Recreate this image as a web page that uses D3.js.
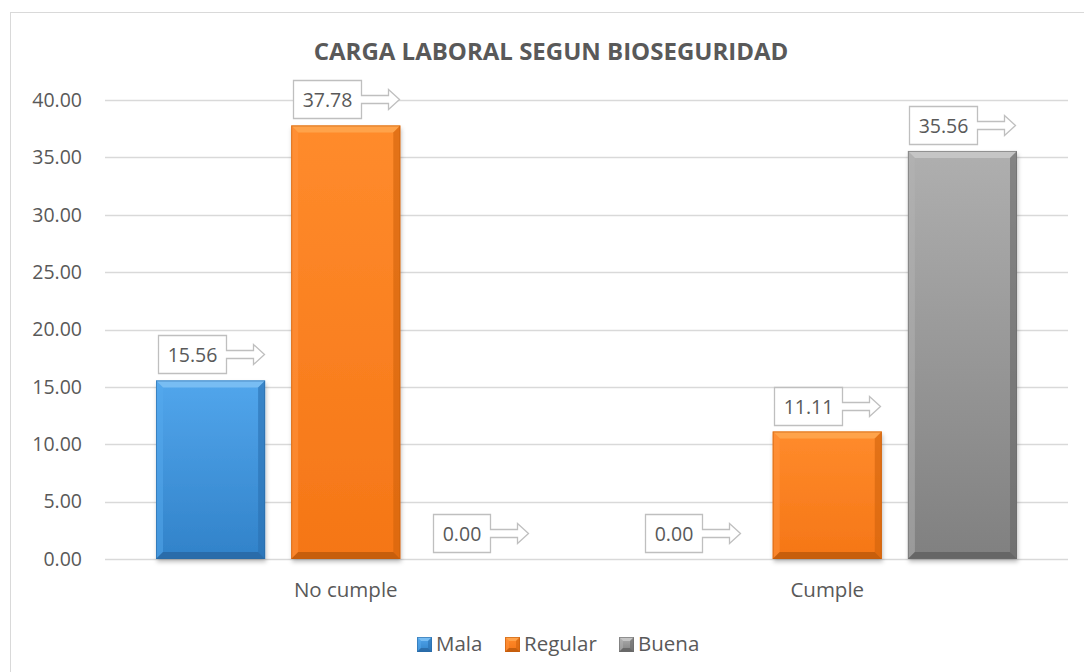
<!DOCTYPE html>
<html>
<head>
<meta charset="utf-8">
<script src="https://cdn.jsdelivr.net/npm/d3@7"></script>
<style>
  html, body { margin: 0; padding: 0; background: #fff; }
  svg { display: block; font-family: 'Open Sans', sans-serif; }
</style>
</head>
<body>
<svg id="chart" width="1084" height="672"></svg>
<script>
// === Data ===
const categories = ['No cumple', 'Cumple'];
const seriesNames = ['Mala', 'Regular', 'Buena'];
const mala    = [15.56, 0.00];
const regular = [37.78, 11.11];
const buena   = [0.00, 35.56];
const yTicks  = [0, 5, 10, 15, 20, 25, 30, 35, 40];
const title   = 'CARGA LABORAL SEGUN BIOSEGURIDAD';

const seriesValues = [mala, regular, buena];

// bevel palettes per series: main gradient top/bottom, top/left/right/bottom bevel
const palettes = [
  { g0: '#52a6ec', g1: '#3182c9', top: '#7cc0f4', left: '#56aaee', right: '#2a6fb0', bottom: '#245d94', edge: '#2a6aa6' },
  { g0: '#ff8b2c', g1: '#f57616', top: '#ffa54e', left: '#ff9440', right: '#d0630c', bottom: '#a84e06', edge: '#c45e0c' },
  { g0: '#afafaf', g1: '#808080', top: '#c8c8c8', left: '#b4b4b4', right: '#686868', bottom: '#555555', edge: '#6a6a6a' }
];

// === Layout ===
const plot = { left: 105, right: 1068, top: 100, bottom: 559 };
const TEXT = '#595959';
const GRID = '#d9d9d9';

const svg = d3.select('#chart');
const defs = svg.append('defs');

palettes.forEach((p, i) => {
  const lg = defs.append('linearGradient').attr('id', 'g' + i)
    .attr('x1', 0).attr('y1', 0).attr('x2', 0).attr('y2', 1);
  lg.append('stop').attr('offset', 0).attr('stop-color', p.g0);
  lg.append('stop').attr('offset', 1).attr('stop-color', p.g1);
});
const shadow = defs.append('filter').attr('id', 'shadow')
  .attr('x', '-10%').attr('y', '-10%').attr('width', '130%').attr('height', '130%');
shadow.append('feDropShadow').attr('dx', 1).attr('dy', 3)
  .attr('stdDeviation', 2).attr('flood-color', '#000').attr('flood-opacity', 0.25);

// chart border
svg.append('rect')
  .attr('x', 10.5).attr('y', 12.5).attr('width', 1090).attr('height', 680)
  .attr('fill', 'none').attr('stroke', GRID);

// === Scales ===
const y = d3.scaleLinear().domain([0, 40]).range([plot.bottom, plot.top]);
const x0 = d3.scaleBand().domain(categories).range([plot.left, plot.right]).padding(0);
const x1 = d3.scaleBand().domain(seriesNames)
  .range([51, x0.bandwidth() - 51]).paddingInner(0.193);

// gridlines
svg.append('g').selectAll('line')
  .data(yTicks)
  .join('line')
  .attr('x1', plot.left).attr('x2', plot.right)
  .attr('y1', d => Math.round(y(d)) + 0.5).attr('y2', d => Math.round(y(d)) + 0.5)
  .attr('stroke', GRID).attr('stroke-width', 1.3);

// y axis labels
const yAxis = svg.append('g')
  .attr('transform', `translate(${plot.left},0)`)
  .call(d3.axisLeft(y).tickValues(yTicks).tickFormat(d3.format('.2f')).tickSize(0).tickPadding(23));
yAxis.select('.domain').remove();
yAxis.selectAll('text').attr('fill', TEXT).style('font-size', '19.5px')
  .style('font-family', "'Open Sans', sans-serif");

// x axis labels
svg.append('g').selectAll('text')
  .data(categories)
  .join('text')
  .attr('x', d => x0(d) + x0.bandwidth() / 2)
  .attr('y', 597)
  .attr('text-anchor', 'middle')
  .attr('fill', TEXT).style('font-size', '20.5px')
  .text(d => d);

// title
svg.append('text')
  .attr('x', 551).attr('y', 60)
  .attr('text-anchor', 'middle')
  .attr('fill', TEXT).style('font-size', '24px').style('font-weight', 700)
  .text(title);

// === Bars ===
function bevelBar(g, bx, by, w, h, p, i, b) {
  if (h <= 0) return;
  b = Math.min(b, h / 2, w / 2);
  g.append('rect').attr('x', bx).attr('y', by).attr('width', w).attr('height', h)
    .attr('fill', `url(#g${i})`).attr('filter', 'url(#shadow)');
  const poly = pts => g.append('polygon').attr('points', pts.map(q => q.join(',')).join(' '));
  poly([[bx, by], [bx + w, by], [bx + w - b, by + b], [bx + b, by + b]]).attr('fill', p.top).attr('opacity', 0.9);
  poly([[bx, by], [bx + b, by + b], [bx + b, by + h - b], [bx, by + h]]).attr('fill', p.left).attr('opacity', 0.5);
  poly([[bx + w, by], [bx + w, by + h], [bx + w - b, by + h - b], [bx + w - b, by + b]]).attr('fill', p.right).attr('opacity', 0.6);
  poly([[bx, by + h], [bx + b, by + h - b], [bx + w - b, by + h - b], [bx + w, by + h]]).attr('fill', p.bottom).attr('opacity', 0.6);
  g.append('rect').attr('x', bx + 0.5).attr('y', by + 0.5).attr('width', w - 1).attr('height', h - 1)
    .attr('fill', 'none').attr('stroke', p.edge).attr('stroke-opacity', 0.6);
}

const barData = [];
categories.forEach((c, ci) => {
  seriesNames.forEach((s, si) => {
    barData.push({ cat: c, ser: s, si, value: seriesValues[si][ci] });
  });
});

const barsG = svg.append('g');
barData.forEach(d => {
  const bx = x0(d.cat) + x1(d.ser);
  const by = y(d.value);
  const g = barsG.append('g');
  bevelBar(g, bx, by, x1.bandwidth(), plot.bottom - by, palettes[d.si], d.si, 7);
});

// === Data label callouts (right arrow callout) ===
const labelsG = svg.append('g');
barData.forEach(d => {
  const cx = x0(d.cat) + x1(d.ser) + x1.bandwidth() / 2;
  const g = labelsG.append('g');
  const txt = g.append('text')
    .attr('fill', TEXT).style('font-size', '19.5px')
    .attr('text-anchor', 'middle')
    .text(d3.format('.2f')(d.value));
  const tw = txt.node().getComputedTextLength();
  const boxW = Math.round(tw + 18), boxH = 38, arrowL = 38;
  const total = boxW + arrowL;
  const left = Math.round(cx - total / 2) + 0.5;
  const bottom = Math.round(y(d.value) - 7) + 0.5;
  const top = bottom - boxH;
  const mid = (top + bottom) / 2;
  const r = left + boxW;
  const headBase = r + 27, tip = r + arrowL;
  const pts = [
    [left, top], [r, top], [r, mid - 4], [headBase, mid - 4], [headBase, mid - 10],
    [tip, mid], [headBase, mid + 10], [headBase, mid + 4], [r, mid + 4], [r, bottom], [left, bottom]
  ];
  g.insert('polygon', 'text')
    .attr('points', pts.map(q => q.join(',')).join(' '))
    .attr('fill', '#fff').attr('stroke', '#bfbfbf').attr('stroke-width', 1.3);
  txt.attr('x', left + boxW / 2).attr('y', mid + 7);
});

// === Legend ===
const legendItems = [
  { name: 'Mala', x: 417 },
  { name: 'Regular', x: 505 },
  { name: 'Buena', x: 619 }
];
const legendG = svg.append('g');
legendItems.forEach((it, i) => {
  const g = legendG.append('g');
  bevelBar(g, it.x, 637, 15, 15, palettes[i], i, 4);
  g.select('rect').attr('filter', null);
  g.append('text')
    .attr('x', it.x + 19).attr('y', 651)
    .attr('fill', TEXT).style('font-size', '20.5px')
    .text(seriesNames[i]);
});
</script>
</body>
</html>
